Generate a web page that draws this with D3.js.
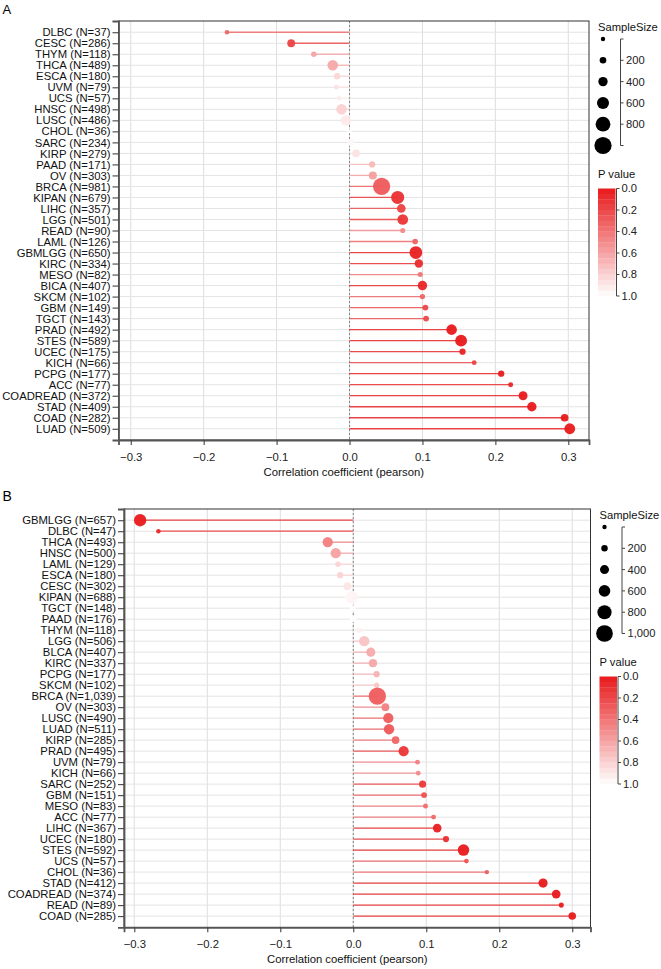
<!DOCTYPE html>
<html>
<head>
<meta charset="utf-8">
<script src="https://cdn.jsdelivr.net/npm/d3@7"></script>
<style>
  html, body { margin: 0; padding: 0; background: #fff; }
  svg text { font-family: "Liberation Sans", Arial, Helvetica, sans-serif; }
</style>
</head>
<body>
<svg id="chart" width="661" height="969"></svg>
<script>
// ---------------- DATA ----------------
// Panel A
const catsA = ["DLBC","CESC","THYM","THCA","ESCA","UVM","UCS","HNSC","LUSC","CHOL","SARC","KIRP","PAAD","OV","BRCA","KIPAN","LIHC","LGG","READ","LAML","GBMLGG","KIRC","MESO","BICA","SKCM","GBM","TGCT","PRAD","STES","UCEC","KICH","PCPG","ACC","COADREAD","STAD","COAD","LUAD"];
const nA = [37,286,118,489,180,79,57,498,486,36,234,279,171,303,981,679,357,501,90,126,650,334,82,407,102,149,143,492,589,175,66,177,77,372,409,282,509];
const corA = [-0.168,-0.080,-0.049,-0.023,-0.017,-0.018,-0.014,-0.011,-0.005,0.000,0.002,0.009,0.031,0.032,0.044,0.066,0.071,0.073,0.073,0.090,0.091,0.095,0.097,0.100,0.100,0.104,0.105,0.140,0.153,0.155,0.171,0.208,0.221,0.238,0.250,0.295,0.302];
const pA = [0.32,0.18,0.60,0.62,0.82,0.87,0.92,0.80,0.91,1.00,0.97,0.88,0.69,0.58,0.28,0.10,0.18,0.12,0.49,0.32,0.03,0.08,0.39,0.05,0.32,0.20,0.21,0.002,0.0002,0.04,0.17,0.005,0.05,0.0,0.0,0.0,0.0];

// Panel B
const catsB = ["GBMLGG","DLBC","THCA","HNSC","LAML","ESCA","CESC","KIPAN","TGCT","PAAD","THYM","LGG","BLCA","KIRC","PCPG","SKCM","BRCA","OV","LUSC","LUAD","KIRP","PRAD","UVM","KICH","SARC","GBM","MESO","ACC","LIHC","UCEC","STES","UCS","CHOL","STAD","COADREAD","READ","COAD"];
const nB = [657,47,493,500,129,180,302,688,148,176,118,506,407,337,177,102,1039,303,490,511,285,495,79,66,252,151,83,77,367,180,592,57,36,412,374,89,285];
const corB = [-0.292,-0.267,-0.035,-0.024,-0.021,-0.018,-0.008,-0.002,-0.001,0.000,0.008,0.015,0.024,0.027,0.032,0.032,0.033,0.044,0.048,0.049,0.058,0.069,0.088,0.089,0.095,0.097,0.099,0.110,0.115,0.127,0.151,0.155,0.183,0.260,0.278,0.285,0.300];
const pB = [0.0,0.07,0.44,0.59,0.81,0.81,0.89,0.96,0.99,1.00,0.93,0.74,0.63,0.62,0.67,0.75,0.29,0.45,0.29,0.27,0.33,0.12,0.44,0.48,0.13,0.24,0.37,0.34,0.03,0.09,0.0002,0.25,0.29,0.0,0.0,0.007,0.0];

const xTicks = [-0.3,-0.2,-0.1,0.0,0.1,0.2,0.3];
const sizeBreaksA = [200,400,600,800];
const sizeBreaksB = [200,400,600,800,1000];
const pTicks = [0.0,0.2,0.4,0.6,0.8,1.0];
const xTitle = "Correlation coefficient (pearson)";

// ---------------- DRAW ----------------
const svg = d3.select("#chart");
const color = d3.scaleLinear().domain([0,1]).range(["#e8191b","#ffffff"]).interpolate(d3.interpolateRgb);

function drawPanel(cfg) {
  const {cats, ns, cors, ps, left, right, top, bottom, xDomain, sizeBreaks, label, labelY, labelSize} = cfg;
  const g = svg.append("g");
  const x = d3.scaleLinear().domain(xDomain).range([left, right]);
  const y = d3.scalePoint().domain(cats).range([top, bottom]).padding(1.02);
  const rScale = d3.scaleLinear().domain([d3.min(ns), d3.max(ns)]).range([2.2, 8.6]);

  // grid
  g.append("g").selectAll("line").data(xTicks).join("line")
    .attr("x1", d => x(d)).attr("x2", d => x(d)).attr("y1", top).attr("y2", bottom)
    .attr("stroke", "#d9d9d9").attr("stroke-width", 0.9);
  g.append("g").selectAll("line").data(cats).join("line")
    .attr("x1", left).attr("x2", right).attr("y1", d => y(d)).attr("y2", d => y(d))
    .attr("stroke", "#e4e4e4").attr("stroke-width", 1);

  // zero dashed line
  g.append("line").attr("x1", x(0)).attr("x2", x(0)).attr("y1", top).attr("y2", bottom)
    .attr("stroke", "#7a7a7a").attr("stroke-width", 0.9).attr("stroke-dasharray", "2,2");

  const rows = cats.map((c, i) => ({c, n: ns[i], v: cors[i], p: ps[i]}));
  // segments
  g.append("g").selectAll("line").data(rows).join("line")
    .attr("x1", x(0)).attr("x2", d => x(d.v)).attr("y1", d => y(d.c)).attr("y2", d => y(d.c))
    .attr("stroke", d => color(d.p)).attr("stroke-width", 1.3).attr("stroke-opacity", 0.8);
  // points
  g.append("g").selectAll("circle").data(rows).join("circle")
    .attr("cx", d => x(d.v)).attr("cy", d => y(d.c)).attr("r", d => rScale(d.n))
    .attr("fill", d => color(d.p)).attr("fill-opacity", 0.95);

  // border
  g.append("rect").attr("x", left).attr("y", top).attr("width", right - left).attr("height", bottom - top)
    .attr("fill", "none").attr("stroke", "#333").attr("stroke-width", 1);

  // axes
  const yAxis = g.append("g").attr("transform", `translate(${left},0)`)
    .call(d3.axisLeft(y).tickSize(6).tickPadding(2).tickFormat((d, i) => `${d} (N=${d3.format(",")(ns[i])})`));
  yAxis.select(".domain").attr("stroke", "#555").attr("stroke-width", 1.8);
  yAxis.selectAll(".tick line").attr("stroke", "#444").attr("stroke-width", 1.1);
  yAxis.selectAll("text").attr("font-size", "11.3px").attr("fill", "#111").attr("font-family", "Liberation Sans, Arial, sans-serif");

  const xAxis = g.append("g").attr("transform", `translate(0,${bottom})`)
    .call(d3.axisBottom(x).tickValues(xTicks).tickSize(5).tickPadding(7.5).tickFormat(d3.format(".1f")));
  xAxis.select(".domain").attr("stroke", "#555").attr("stroke-width", 1.8);
  xAxis.selectAll(".tick line").attr("stroke", "#444").attr("stroke-width", 1.1);
  xAxis.selectAll("text").attr("font-size", "11.3px").attr("fill", "#222").attr("font-family", "Liberation Sans, Arial, sans-serif");

  g.append("text").attr("x", (left + right) / 2 - 10).attr("y", bottom + 35.5)
    .attr("text-anchor", "middle").attr("font-size", "11.3px").attr("fill", "#111").text(xTitle);

  // panel label
  g.append("text").attr("x", 2.5).attr("y", labelY).attr("font-size", labelSize + "px").attr("fill", "#000").text(label);

  // ---- size legend ----
  const lx = right + 9;
  g.append("text").attr("x", lx).attr("y", top + 10).attr("font-size", "11.2px").attr("fill", "#111").text("SampleSize");
  const nMin = d3.min(ns), nMax = d3.max(ns);
  const keys = [nMin, ...sizeBreaks];
  if (nMax - sizeBreaks[sizeBreaks.length - 1] > 100) keys.push(nMax);
  const keyStep = 21.3;
  const ky = (i) => top + 18 + i * keyStep;
  g.append("g").selectAll("circle").data(keys).join("circle")
    .attr("cx", lx + 5).attr("cy", (d, i) => ky(i)).attr("r", d => rScale(d)).attr("fill", "#000");
  const bx = lx + 22.5;
  const y0 = ky(0), y1 = ky(keys.length - 1);
  g.append("path").attr("d", `M${bx + 3},${y0}H${bx}V${y1}H${bx + 3}`).attr("fill", "none").attr("stroke", "#444").attr("stroke-width", 1);
  sizeBreaks.forEach(b => {
    const i = keys.indexOf(b);
    g.append("line").attr("x1", bx).attr("x2", bx + 3).attr("y1", ky(i)).attr("y2", ky(i)).attr("stroke", "#444");
    g.append("text").attr("x", bx + 5.5).attr("y", ky(i)).attr("dy", "0.35em").attr("font-size", "11.2px").attr("fill", "#222").text(d3.format(",")(b));
  });

  // ---- p value legend ----
  g.append("text").attr("x", lx).attr("y", top + 156.5).attr("font-size", "11.2px").attr("fill", "#111").text("P value");
  const barTop = top + 167.5, barH = 107.5, barW = 17.5;
  const py = d3.scaleLinear().domain([0, 1]).range([barTop, barTop + barH]);
  const nbin = 20;
  const bins = d3.range(nbin);
  g.append("g").selectAll("rect").data(bins).join("rect")
    .attr("x", lx).attr("y", d => py(d / nbin)).attr("width", barW).attr("height", barH / nbin + 0.3)
    .attr("fill", d => color((d + 0.5) / nbin));
  const cbx = lx + barW + 1;
  g.append("line").attr("x1", cbx).attr("x2", cbx).attr("y1", barTop).attr("y2", barTop + barH).attr("stroke", "#444");
  g.append("g").selectAll("line").data(pTicks).join("line")
    .attr("x1", cbx).attr("x2", cbx + 3).attr("y1", d => py(d)).attr("y2", d => py(d)).attr("stroke", "#444");
  g.append("g").selectAll("text").data(pTicks).join("text")
    .attr("x", cbx + 5).attr("y", d => py(d)).attr("dy", "0.35em").attr("font-size", "11.2px").attr("fill", "#222")
    .text(d3.format(".1f"));
}

drawPanel({cats: catsA, ns: nA, cors: corA, ps: pA, left: 118.5, right: 589, top: 21, bottom: 440,
  xDomain: [-0.3168, 0.3284], sizeBreaks: sizeBreaksA, label: "A", labelY: 13.5, labelSize: 13});
drawPanel({cats: catsB, ns: nB, cors: corB, ps: pB, left: 124, right: 590.5, top: 509, bottom: 927.3,
  xDomain: [-0.3141, 0.3250], sizeBreaks: sizeBreaksB, label: "B", labelY: 500.5, labelSize: 14});
</script>
</body>
</html>
